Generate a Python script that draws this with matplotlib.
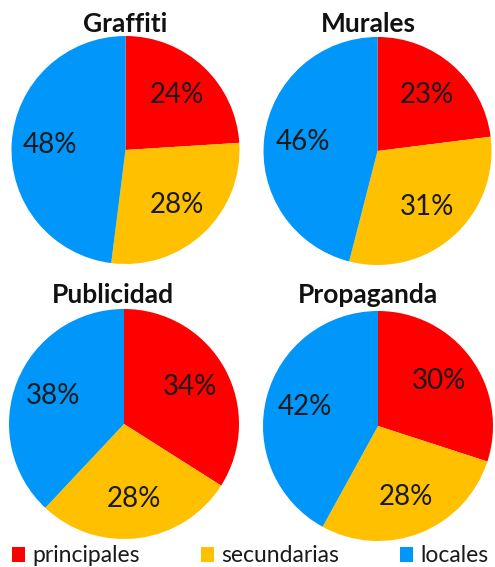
import matplotlib
matplotlib.use("Agg")
import matplotlib.pyplot as plt

# data
titles = ["Graffiti", "Murales", "Publicidad", "Propaganda"]
categories = ["principales", "secundarias", "locales"]
graffiti = [24, 28, 48]
murales = [23, 31, 46]
publicidad = [34, 28, 38]
propaganda = [30, 28, 42]
series = [graffiti, murales, publicidad, propaganda]

colors = ["#FF0000", "#FFC000", "#0096FA"]

plt.rcParams['font.family'] = ['Lato', 'DejaVu Sans']

W, H = 495, 567
fig = plt.figure(figsize=(W / 100, H / 100), dpi=100)

# pie boxes in pixels: (center x, center y, radius)
boxes = [(125.5, 150, 114), (377.5, 151, 114), (124, 424, 115), (378, 426, 115)]
title_pos = [(125, 24), (368, 24), (113, 295), (368, 295)]

wedges = None
for vals, title, (cx, cy, r), (tx, ty) in zip(series, titles, boxes, title_pos):
    ax = fig.add_axes([(cx - r) / W, (H - cy - r) / H, 2 * r / W, 2 * r / H])
    wedges, texts, autotexts = ax.pie(
        vals, colors=colors, startangle=90, counterclock=False,
        autopct=lambda p: f"{p:.0f}%", pctdistance=0.66,
        wedgeprops=dict(linewidth=0),
        textprops=dict(fontsize=20, color="#1a1a1a"))
    ax.set_xlim(-1, 1)
    ax.set_ylim(-1, 1)
    ax.set_aspect("auto")
    ax.axis("off")
    fig.text(tx / W, 1 - ty / H, title, ha="center", va="center",
             fontsize=19, fontweight="bold", color="#111111")

fig.legend(wedges, categories, loc="center left", ncol=3,
           bbox_to_anchor=(3 / W, 1 - 556 / H), frameon=False,
           fontsize=16.5, handlelength=0.55, handleheight=0.6,
           handletextpad=0.35, columnspacing=2.65, borderaxespad=0,
           labelcolor="#1a1a1a")

plt.savefig("out.png", dpi=100)
